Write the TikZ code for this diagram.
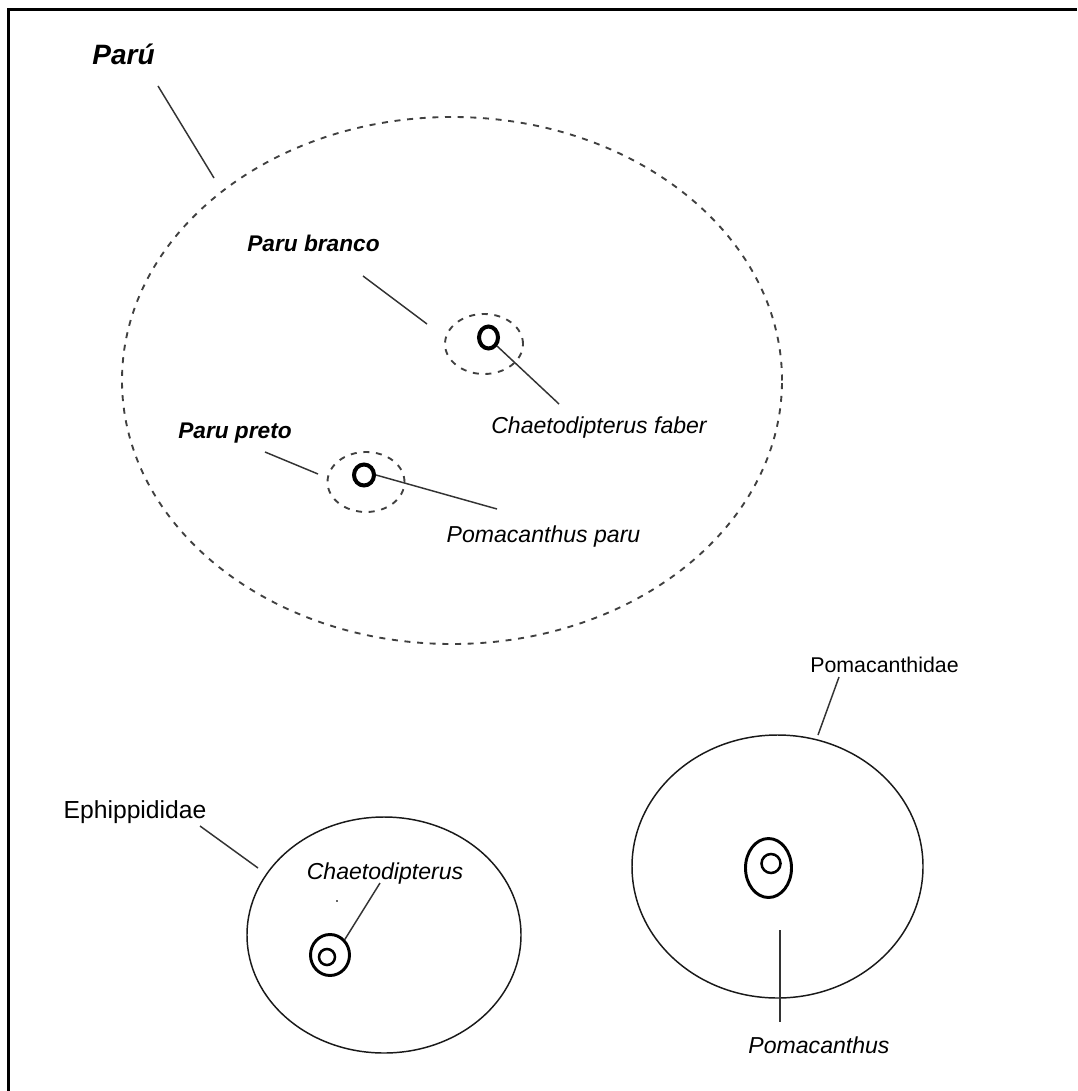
\documentclass[tikz,border=0pt]{standalone}
\usepackage{fontspec}
\setmainfont{Liberation Sans}
\usetikzlibrary{shapes.geometric}
\newdimen\pxu \pxu=0.75pt
\begin{document}
\begin{tikzpicture}[x=0.75pt,y=-0.75pt,
  lead/.style={draw=black!80, line width=1.1pt},
  dashring/.style={ellipse, draw=black!75, dash pattern=on 4.5pt off 5pt, line width=1.4pt, inner sep=0pt},
  plainring/.style={ellipse, draw=black!90, line width=1.1pt, inner sep=0pt},
  boldring/.style={ellipse, draw, line width=3pt, inner sep=0pt},
  midring/.style={ellipse, draw, line width=2.2pt, inner sep=0pt},
  common/.style={font=\fontsize{17}{20}\selectfont\bfseries\itshape, inner sep=0pt, anchor=base},
  taxon/.style={font=\fontsize{17.3}{20}\selectfont\itshape, inner sep=0pt, anchor=base},
  family/.style={font=\fontsize{16}{19}\selectfont, inner sep=0pt, anchor=base}]
\useasboundingbox (0,0) rectangle (1077,1091);
\fill[white] (0,0) rectangle (1077,1091);
% frame
\draw[line width=2.4pt] (8.5,1091) -- (8.5,9.5) -- (1077,9.5);

% --- common name "Parú" ---
\node[common, font=\fontsize{21}{25}\selectfont\bfseries\itshape] (paru) at (123.5,65) {Parú};
\node[dashring, minimum width=660\pxu, minimum height=527\pxu] (paruset) at (452,380.5) {};
\coordinate (paruA) at (158,86);
\coordinate (paruB) at (214,178);
\draw[lead] (paruA) -- (paruB);

% Paru branco
\node[common] (branco) at (313.5,252) {Paru branco};
\node[dashring, minimum width=78\pxu, minimum height=60\pxu] (brancoset) at (484,344) {};
\node[boldring, minimum width=19\pxu, minimum height=22\pxu] (faber) at (488.5,337.5) {};
\coordinate (brancoA) at (363,276);
\coordinate (brancoB) at (427,324);
\draw[lead] (brancoA) -- (brancoB);
\node[taxon] (faberlbl) at (599,433) {Chaetodipterus faber};
\coordinate (faberB) at (559,404);
\draw[lead] (faber.-45) -- (faberB);

% Paru preto
\node[common] (preto) at (235,438) {Paru preto};
\node[dashring, minimum width=77\pxu, minimum height=60\pxu] (pretoset) at (366,482) {};
\node[boldring, minimum width=20\pxu, minimum height=21\pxu] (pparu) at (364,475) {};
\coordinate (pretoA) at (265,452);
\coordinate (pretoB) at (318,474);
\draw[lead] (pretoA) -- (pretoB);
\node[taxon] (pparulbl) at (543.5,542) {Pomacanthus paru};
\coordinate (pparuB) at (497,509);
\draw[lead] (pparu.east) -- (pparuB);

% --- family Ephippididae ---
\node[family, font=\fontsize{18.5}{22}\selectfont] (ephi) at (135,818) {Ephippididae};
\node[plainring, minimum width=274\pxu, minimum height=236\pxu] (ephiset) at (384,935) {};
\coordinate (ephiA) at (200,826);
\coordinate (ephiB) at (258,868);
\draw[lead] (ephiA) -- (ephiB);
\node[midring, minimum width=39\pxu, minimum height=41\pxu] (chaeto) at (330,955) {};
\node[midring, line width=1.9pt, minimum width=16\pxu, minimum height=16\pxu] (chaetoin) at (327,957) {};
\node[taxon] (chaetolbl) at (385,879) {Chaetodipterus};
\coordinate (chaetoA) at (380,883);
\draw[lead] (chaetoA) -- (chaeto.north east);
\fill[black!60] (336,900) rectangle (338,901.5);

% --- family Pomacanthidae ---
\node[family] (poma) at (884.5,672) {Pomacanthidae};
\node[plainring, minimum width=291\pxu, minimum height=263\pxu] (pomaset) at (777.5,866.5) {};
\coordinate (pomaA) at (839,677);
\coordinate (pomaB) at (818,735);
\draw[lead] (pomaA) -- (pomaB);
\node[midring, minimum width=46\pxu, minimum height=59\pxu] (pomac) at (768.5,868) {};
\node[midring, line width=1.9pt, minimum width=19\pxu, minimum height=19\pxu] (pomacin) at (771,863.5) {};
\node[taxon] (pomaclbl) at (819,1053) {Pomacanthus};
\coordinate (pomacA) at (780,930);
\coordinate (pomacB) at (780,1022);
\draw[lead] (pomacA) -- (pomacB);
\end{tikzpicture}
\end{document}
